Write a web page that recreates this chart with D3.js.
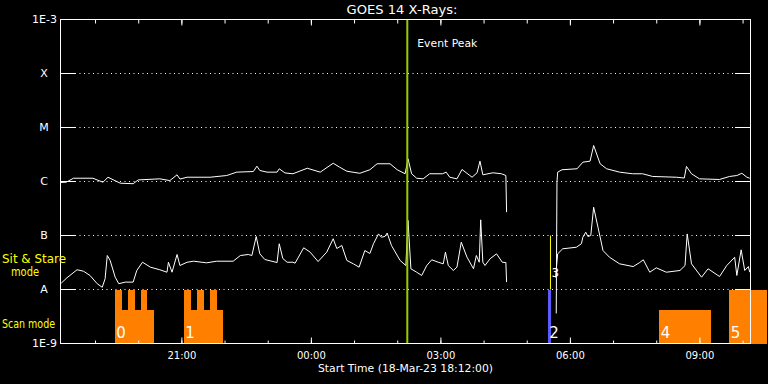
<!DOCTYPE html>
<html><head><meta charset="utf-8">
<script src="https://cdn.jsdelivr.net/npm/d3@7"></script>
<style>
html,body{margin:0;padding:0;background:#000;}
svg{display:block;}
text{font-family:"DejaVu Sans",sans-serif;fill:#fff;}
</style></head>
<body>
<script>
// ---------- data ----------
const chartTitle = "GOES 14 X-Rays:";
const xAxisTitle = "Start Time (18-Mar-23 18:12:00)";
const timeDomain = ["18 18:12", "19 10:11"];
const fluxDomain = [1e-9, 1e-3];
const classLevels = [1e-3, 1e-4, 1e-5, 1e-6, 1e-7, 1e-8, 1e-9];
const classLabels = ["1E-3", "X", "M", "C", "B", "A", "1E-9"];
const gridLevels = [1e-4, 1e-5, 1e-6, 1e-7, 1e-8];

// long channel (1-8 A)
const longTime = ["18 18:12","18 18:20","18 18:30","18 18:57","18 19:11","18 19:18","18 19:35","18 19:53","18 20:00","18 20:30","18 20:44","18 20:54","18 20:58","18 21:08","18 21:40","18 22:03","18 22:17","18 22:40","18 22:45","18 22:49","18 22:59","18 23:13","18 23:16","18 23:24","18 23:35","18 23:55","19 00:13","19 00:31","19 00:40","19 00:50","19 01:08","19 01:22","19 01:32","19 01:50","19 02:00","19 02:11","19 02:15","19 02:20","19 02:27","19 02:36","19 02:45","19 03:03","19 03:08","19 03:13","19 03:23","19 03:30","19 03:44","19 03:51","19 03:55","19 03:59","19 04:13","19 04:25","19 04:31","19 04:32","19 05:00","19 05:41","19 05:42","19 05:43","19 05:49","19 06:10","19 06:18","19 06:28","19 06:33","19 06:42","19 06:51","19 07:09","19 07:27","19 07:41","19 07:55","19 08:28","19 08:39","19 08:42","19 08:49","19 09:00","19 09:28","19 09:42","19 09:52","19 09:59","19 10:06","19 10:10"];
const longFlux = [9.6e-7,9.7e-7,1.15e-6,1.15e-6,9.7e-7,1.2e-6,9.3e-7,9.1e-7,1.07e-6,1.12e-6,1.04e-6,1.33e-6,1.11e-6,1.2e-6,1.2e-6,1.29e-6,1.49e-6,1.53e-6,1.92e-6,1.6e-6,1.49e-6,1.49e-6,1.72e-6,1.44e-6,1.39e-6,1.76e-6,1.49e-6,2.18e-6,1.84e-6,1.55e-6,1.42e-6,1.65e-6,2.13e-6,2.13e-6,1.65e-6,1.39e-6,2.63e-6,1.39e-6,1.15e-6,1.12e-6,1.39e-6,1.39e-6,1.49e-6,1.2e-6,1.12e-6,1.67e-6,1.2e-6,1.45e-6,2.38e-6,1.33e-6,1.45e-6,1.39e-6,1.29e-6,2.7e-7,null,3.6e-9,9.7e-7,1.49e-6,1.65e-6,1.72e-6,2.28e-6,2.38e-6,4.64e-6,2.13e-6,1.72e-6,1.49e-6,1.39e-6,1.39e-6,1.24e-6,1.2e-6,1.16e-6,1.9e-6,1.39e-6,1.12e-6,1.09e-6,1.24e-6,1.29e-6,1.42e-6,1.2e-6,1.15e-6];

// short channel (0.5-4 A)
const shortTime = ["18 18:13","18 18:21","18 18:35","18 18:44","18 18:53","18 19:03","18 19:10","18 19:14","18 19:17","18 19:21","18 19:28","18 19:33","18 19:42","18 19:53","18 19:58","18 20:06","18 20:17","18 20:30","18 20:40","18 20:42","18 20:47","18 20:54","18 20:58","18 21:08","18 21:17","18 21:35","18 21:49","18 22:12","18 22:22","18 22:33","18 22:38","18 22:44","18 22:49","18 22:56","18 23:13","18 23:16","18 23:21","18 23:27","18 23:35","18 23:38","18 23:50","18 23:59","19 00:10","19 00:22","19 00:31","19 00:36","19 00:43","19 00:50","19 00:59","19 01:07","19 01:15","19 01:22","19 01:27","19 01:34","19 01:38","19 01:43","19 01:46","19 01:52","19 02:04","19 02:12","19 02:15","19 02:19","19 02:27","19 02:34","19 02:41","19 02:48","19 02:57","19 03:04","19 03:07","19 03:11","19 03:18","19 03:23","19 03:29","19 03:37","19 03:46","19 03:50","19 03:54","19 03:56","19 03:59","19 04:02","19 04:09","19 04:18","19 04:26","19 04:31","19 04:32","19 05:00","19 05:40","19 05:43","19 05:50","19 06:09","19 06:16","19 06:18","19 06:22","19 06:25","19 06:29","19 06:33","19 06:39","19 06:46","19 06:55","19 07:09","19 07:28","19 07:37","19 07:42","19 07:51","19 08:00","19 08:14","19 08:33","19 08:40","19 08:43","19 08:49","19 09:03","19 09:12","19 09:28","19 09:38","19 09:49","19 09:52","19 09:58","19 10:03","19 10:08","19 10:10"];
const shortFlux = [1.31e-8,1.65e-8,2.32e-8,2.18e-8,1.82e-8,1.28e-8,1.1e-8,1.58e-8,4.26e-8,3.45e-8,1.69e-8,1.28e-8,1.37e-8,1.37e-8,2.25e-8,3.2e-8,2.59e-8,2.32e-8,2.09e-8,3.2e-8,2.09e-8,4.45e-8,2.78e-8,3.2e-8,3.34e-8,3.12e-8,3.34e-8,3.34e-8,4.26e-8,4.45e-8,4.26e-8,9.58e-8,4.58e-8,3.59e-8,3.16e-8,7.03e-8,3.75e-8,3.2e-8,3.2e-8,3.07e-8,5.92e-8,4.91e-8,3.3e-8,4.91e-8,8.71e-8,5.74e-8,6.53e-8,3.45e-8,2.99e-8,2.59e-8,5.27e-8,4.64e-8,7.03e-8,1.07e-7,9.3e-8,9.6e-8,1.11e-7,6.53e-8,3.45e-8,2.78e-8,1.9e-7,2.42e-8,2.09e-8,1.82e-8,2.78e-8,3.55e-8,3.2e-8,2.99e-8,4.91e-8,2.78e-8,2.25e-8,2.59e-8,7.51e-8,3.96e-8,2.42e-8,4.26e-8,3.2e-8,1.95e-7,3.2e-8,2.78e-8,3.7e-8,4.58e-8,3.2e-8,3.16e-8,1.37e-8,null,1.67e-8,4.58e-8,5.67e-8,6.06e-8,7.03e-8,9.3e-8,1.15e-7,9.6e-8,1.0e-7,3.34e-7,1.43e-7,5.27e-8,3.96e-8,2.99e-8,2.66e-8,3.16e-8,3.55e-8,2.09e-8,2.52e-8,2.09e-8,2.25e-8,2.78e-8,1.07e-7,2.99e-8,1.69e-8,2.42e-8,1.74e-8,2.78e-8,3.96e-8,1.82e-8,5.43e-8,2.25e-8,2.66e-8,2.09e-8];

// observation mode blocks (scan = low, sit & stare = high)
const blockStart = ["18 19:28","18 19:28","18 19:46","18 20:04","18 21:04","18 21:04","18 21:22","18 21:40","19 05:30","19 08:05","19 09:42"];
const blockEnd   = ["18 20:23","18 19:38","18 19:56","18 20:13","18 21:59","18 21:14","18 21:32","18 21:50","19 05:34","19 09:17","19 10:35"];
const blockMode  = ["scan","stare","stare","stare","scan","stare","stare","stare","stare","scan","stare"];
const blockGroup = ["0","0","0","0","1","1","1","1","2","4","5"];
const labelText  = ["0","1","2","3","4","5"];
const labelTime  = ["18 19:28","18 21:04","19 05:30","19 05:33","19 08:05","19 09:42"];
const markerTime = "19 05:33";       // yellow marker "3"
const markerRange = [1e-8, 1e-7];
const eventPeakTime = "19 02:14";
const eventLabel = "Event Peak";
const modeLevel = {stare: 1e-8, scan: 4.1e-9};

// ---------- drawing ----------
const W = 768, H = 384;
const parse = d3.timeParse("%d %H:%M");
const svg = d3.select("body").append("svg").attr("width", W).attr("height", H);
svg.append("rect").attr("width", W).attr("height", H).attr("fill", "#000");

const x = d3.scaleTime().domain(timeDomain.map(parse)).range([60.5, 750.5]);
const y = d3.scaleLog().domain(fluxDomain).range([343.5, 19.5]);

// mode blocks
const blocks = blockStart.map((s, i) => ({s: parse(s), e: parse(blockEnd[i]), mode: blockMode[i], g: blockGroup[i]}));
svg.append("g").selectAll("rect").data(blocks).join("rect")
  .attr("x", d => x(d.s) - 0.5)
  .attr("width", d => x(d.e) - x(d.s))
  .attr("y", d => y(modeLevel[d.mode]))
  .attr("height", d => y(fluxDomain[0]) - y(modeLevel[d.mode]))
  .attr("fill", d => d.g === "2" ? "#5a5aff" : "#ff8000")
  .attr("shape-rendering", "crispEdges");

// yellow marker
svg.append("line")
  .attr("x1", x(parse(markerTime))).attr("x2", x(parse(markerTime)))
  .attr("y1", y(markerRange[1])).attr("y2", y(markerRange[0]))
  .attr("stroke", "#ffff00").attr("stroke-width", 1);

// gridlines
const gg = svg.append("g");
gridLevels.forEach(v => {
  const yy = Math.round(y(v) - 0.5) + 0.5;
  gg.append("line").attr("x1", 75).attr("x2", 735).attr("y1", yy).attr("y2", yy)
    .attr("stroke", "#fff").attr("stroke-dasharray", "1,3.5");
  gg.append("line").attr("x1", 60.5).attr("x2", 75).attr("y1", yy).attr("y2", yy).attr("stroke", "#fff");
  gg.append("line").attr("x1", 735).attr("x2", 750.5).attr("y1", yy).attr("y2", yy).attr("stroke", "#fff");
});

// flux lines
const line = d3.line().defined(d => d[1] != null).x(d => x(d[0])).y(d => y(d[1]));
const longData = longTime.map((t, i) => [parse(t), longFlux[i]]);
const shortData = shortTime.map((t, i) => [parse(t), shortFlux[i]]);
[longData, shortData].forEach(dd => {
  svg.append("path").datum(dd).attr("d", line)
    .attr("fill", "none").attr("stroke", "#fff").attr("stroke-width", 1);
});

// event peak line
const xp = x(parse(eventPeakTime));
svg.append("line").attr("x1", xp).attr("x2", xp).attr("y1", 19.5).attr("y2", 343.5)
  .attr("stroke", "#99cc00").attr("stroke-width", 2);
svg.append("text").attr("x", xp + 10).attr("y", 47).attr("font-size", 11)
  .attr("textLength", 60).attr("lengthAdjust", "spacingAndGlyphs").text(eventLabel);

// frame
svg.append("rect").attr("x", 60.5).attr("y", 19.5).attr("width", 690).attr("height", 324)
  .attr("fill", "none").attr("stroke", "#fff");

// axes
const hours1 = d3.timeHour.every(1), hours3 = d3.timeHour.every(3);
function styleAxis(g) { g.select(".domain").remove(); g.selectAll("line").attr("stroke", "#fff"); }
svg.append("g").attr("transform", "translate(0,343.5)")
  .call(d3.axisBottom(x).ticks(hours1).tickSize(-3).tickFormat(""))
  .call(styleAxis);
svg.append("g").attr("transform", "translate(0,343.5)")
  .call(d3.axisBottom(x).ticks(hours3).tickSize(-6).tickPadding(8).tickFormat(d3.timeFormat("%H:%M")))
  .call(styleAxis)
  .call(g => g.selectAll("text").attr("fill", "#fff").attr("font-family", "DejaVu Sans").attr("font-size", 10));
svg.append("g").attr("transform", "translate(0,19.5)")
  .call(d3.axisTop(x).ticks(hours1).tickSize(-4).tickFormat(""))
  .call(styleAxis);
svg.append("g").attr("transform", "translate(0,19.5)")
  .call(d3.axisTop(x).ticks(hours3).tickSize(-6).tickFormat(""))
  .call(styleAxis);

// y labels
classLevels.forEach((v, i) => {
  const lab = classLabels[i];
  const isNum = lab.length > 1;
  svg.append("text")
    .attr("x", isNum ? 57 : 44).attr("y", y(v)).attr("dy", "0.36em")
    .attr("text-anchor", isNum ? "end" : "middle")
    .attr("font-size", 11).text(lab);
});

// mode labels
svg.append("text").attr("x", 2).attr("y", 263).attr("font-size", 12).style("fill", "#ffff00")
  .attr("textLength", 64).attr("lengthAdjust", "spacingAndGlyphs").text("Sit & Stare");
svg.append("text").attr("x", 11).attr("y", 276).attr("font-size", 12).style("fill", "#ffff00")
  .attr("textLength", 28).attr("lengthAdjust", "spacingAndGlyphs").text("mode");
svg.append("text").attr("x", 2).attr("y", 328).attr("font-size", 12).style("fill", "#ffff00")
  .attr("textLength", 53).attr("lengthAdjust", "spacingAndGlyphs").text("Scan mode");

// block labels
labelText.forEach((t, i) => {
  const tt = parse(labelTime[i]);
  const isMarker = labelTime[i] === markerTime;
  svg.append("text").attr("x", x(tt) + 1)
    .attr("y", isMarker ? y(1.7e-8) : y(1.25e-9))
    .attr("font-size", isMarker ? 12 : 15).text(t);
});

// titles
svg.append("text").attr("x", 402).attr("y", 14).attr("text-anchor", "middle").attr("font-size", 12)
  .attr("textLength", 111).attr("lengthAdjust", "spacingAndGlyphs").text(chartTitle);
svg.append("text").attr("x", 405.5).attr("y", 372).attr("text-anchor", "middle").attr("font-size", 10.5)
  .attr("textLength", 175).attr("lengthAdjust", "spacingAndGlyphs").text(xAxisTitle);
</script>
</body></html>
